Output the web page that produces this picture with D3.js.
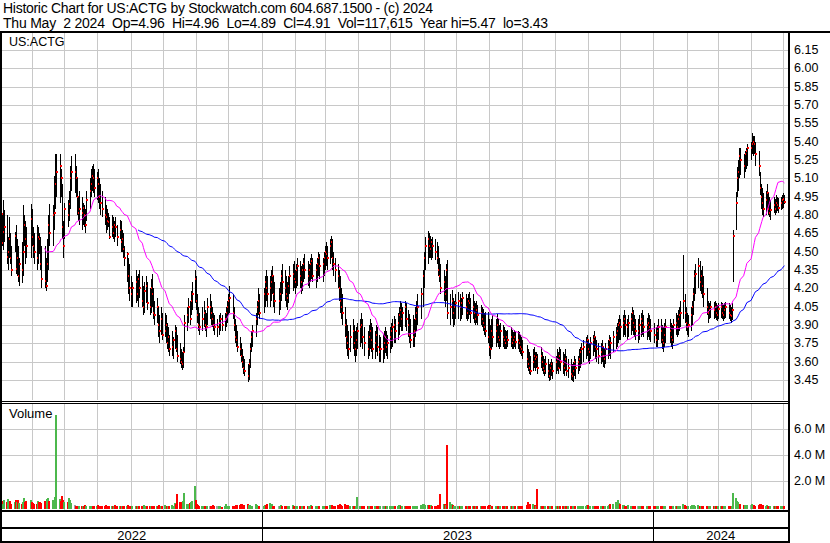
<!DOCTYPE html>
<html><head><meta charset="utf-8">
<script src="https://cdn.jsdelivr.net/npm/d3@7"></script>
<style>body{margin:0;background:#fff}svg{display:block}text{font-family:"Liberation Sans",Arial,sans-serif;fill:#000}</style>
</head><body><svg id="c" width="830" height="543"></svg>
<script>
const header1 = "Historic Chart for US:ACTG by Stockwatch.com 604.687.1500 - (c) 2024";
const header2 = "Thu May  2 2024  Op=4.96  Hi=4.96  Lo=4.89  Cl=4.91  Vol=117,615  Year hi=5.47  lo=3.43";
const symbol = "US:ACTG";
const priceTicks = [6.15,6.00,5.85,5.70,5.55,5.40,5.25,5.10,4.95,4.80,4.65,4.50,4.35,4.20,4.05,3.90,3.75,3.60,3.45];
const volTicks = [2,4,6];
const volTickLabels = ["2.0 M","4.0 M","6.0 M"];
const yearLabels = ["2022","2023","2024"];
const holidays = ["2022-05-30","2022-06-20","2022-07-04","2022-09-05","2022-11-24","2022-12-26","2023-01-02","2023-01-16","2023-02-20","2023-04-07","2023-05-29","2023-06-19","2023-07-04","2023-09-04","2023-11-23","2023-12-25","2024-01-01","2024-01-15","2024-02-19","2024-03-29"];
const maShort = 30, maLong = 90;

const highs = [
4.92,4.88,4.80,4.92,4.84, 4.80,4.62,4.78,4.65,4.55, 4.66,4.72,4.60,4.55,4.45, 4.58,4.88,4.80,4.75,4.70, 4.89,4.85,4.70,4.65,
4.72,4.70,4.65,4.62,4.55, 4.55,4.45,4.60,4.80,4.89, 4.88,5.12,5.30,5.30, 5.30,5.18,5.05,4.75,4.90, 4.92,5.00,5.20,5.28,
5.30,5.20,5.10,4.95,5.00, 4.95,4.90,4.88,4.85,5.00, 5.10,5.18,5.20,5.22,5.18, 5.15,5.18,5.10,5.05,5.00, 4.95,4.88,4.85,4.82,4.78,
4.80,4.78,4.75,4.78,4.72, 4.76,4.75,4.68,4.65,4.55, 4.50,4.45,4.40,4.30,4.25, 4.35,4.30,4.32,4.35, 4.30,4.22,4.25,4.30,4.25,
4.20,4.28,4.32,4.20,4.10, 4.12,4.05,3.98,4.05,4.00, 4.00,3.98,3.92,3.88,3.82, 3.85,3.80,3.90,3.88,3.82, 3.75,3.70,3.68,3.72,3.98,
4.05,4.12,4.10,4.18,4.25, 4.35,4.30,4.15,4.05,4.00, 4.05,4.10,4.02,4.00,4.12, 4.15,4.10,4.05,4.00,3.98, 3.95,3.98,4.00,3.98,
4.00,4.05,4.10,4.15,4.22, 4.15,4.05,3.95,3.90,3.85, 3.80,3.75,3.70,3.65,3.62, 3.58,3.62,3.75,3.85,3.90, 4.00,4.10,4.20,4.15,
4.20,4.30,4.35,4.30, 4.30,4.35,4.38,4.30,4.25, 4.20,4.25,4.35,4.40, 4.35,4.30,4.25,4.30,4.38, 4.40,4.42,4.35,4.40,4.45,
4.42,4.38,4.40,4.45,4.48, 4.42,4.40,4.45,4.48,4.45, 4.40,4.45,4.50,4.48, 4.45,4.50,4.55,4.58,4.55, 4.60,4.63,4.60,4.50,4.45,
4.40,4.35,4.30,4.20,4.15, 4.05,3.95,3.90,3.85,3.90, 3.95,3.90,3.85,3.88,3.92, 3.95,4.00,3.95,3.88, 3.85,3.90,3.95,3.92,3.88,
3.85,3.90,3.88,3.82,3.80, 3.83,3.85,3.88,3.85,3.82, 3.88,3.92,3.95,3.97,3.95, 4.00,4.05,4.10,4.08,4.05, 4.10,4.08,4.02,3.99,3.95,
3.98,3.95,4.05,4.10,4.15, 4.20,4.35,4.50,4.62, 4.67,4.65,4.63,4.60,4.62, 4.60,4.58,4.55,4.45,4.40, 4.35,4.30,4.40,4.43,
4.15,4.19,4.12,4.10,4.15, 4.17,4.15,4.12,4.17, 4.15,4.12,4.15,4.17,4.12, 4.15,4.10,4.08,4.10,4.06, 4.06,4.05,4.03,4.00,4.01,
4.01,3.95,3.90,3.95,3.98, 3.95,3.99,3.95,3.90,3.92, 3.90,3.88,3.86,3.85,3.86, 3.88,3.86,3.84,3.86,3.85, 3.85,3.84,3.82,3.80,3.78,
3.74,3.70,3.68,3.65, 3.70,3.72,3.68,3.68,3.66, 3.72,3.68,3.65,3.62,3.65, 3.62,3.58,3.60,3.62,3.60, 3.65,3.70,3.68,3.72,3.70,
3.68,3.66,3.70,3.65,3.62, 3.62,3.58,3.60,3.65,3.62, 3.65,3.70,3.72,3.75,3.78, 3.80,3.82,3.78,3.75,3.80, 3.82,3.85,3.80,3.78,3.75,
3.75,3.78,3.72,3.70,3.75, 3.78,3.82,3.80,3.85, 3.88,3.92,3.95,3.98,3.95, 3.98,4.02,3.98,3.95,3.98, 4.00,4.05,4.02,3.98,3.95,
3.95,3.98,4.00,4.02,3.98, 3.96,4.00,3.98,3.95, 3.92,3.88,3.90,3.95, 3.95,3.90,3.88,3.92,3.95, 3.95,3.92,3.90,3.95,
4.00,3.98,4.02,4.05,4.10, 4.47,4.15,4.05,4.00,3.98, 4.05,4.10,4.20,4.35,4.40, 4.45,4.42,4.35,4.38,4.30, 4.20,4.10,4.08,4.10,
4.09,4.10,4.08,4.06,4.08, 4.09,4.08,4.06,4.08,4.09, 4.08,4.06,4.05,4.08,4.68, 4.99,5.19,5.25,5.35,5.35, 5.30,5.32,5.35,5.38,
5.40,5.47,5.45,5.45,5.40, 5.32,5.15,5.05,5.02,4.98, 5.00,5.05,4.98,4.95,4.92, 4.95,4.93,4.96,4.95,4.94, 4.95,4.96,4.98,4.96];

const lows = [
4.64,4.55,4.55,4.51,4.58, 4.40,4.35,4.45,4.40,4.30, 4.50,4.32,4.30,4.25,4.22, 4.24,4.30,4.55,4.40,4.45, 4.45,4.55,4.45,4.40,
4.35,4.40,4.48,4.35,4.20, 4.20,4.18,4.25,4.35,4.55, 4.55,4.68,4.85,4.95, 4.90,4.95,4.60,4.45,4.60, 4.70,4.75,4.85,5.00,
4.98,4.95,4.80,4.75,4.72, 4.68,4.72,4.70,4.65,4.75, 4.85,4.95,5.00,4.98,4.95, 4.92,4.90,4.85,4.80,4.78, 4.72,4.65,4.68,4.70,4.60,
4.62,4.60,4.58,4.62,4.55, 4.60,4.50,4.50,4.45,4.38, 4.25,4.15,4.10,4.05,4.05, 4.08,4.10,4.05,4.12, 4.05,3.98,4.00,4.08,4.02,
3.98,4.00,4.05,3.95,3.90, 3.92,3.80,3.75,3.82,3.78, 3.80,3.75,3.70,3.68,3.65, 3.65,3.62,3.70,3.68,3.60, 3.58,3.55,3.53,3.55,3.68,
3.85,3.92,3.90,3.98,4.02, 4.08,4.02,3.92,3.85,3.82, 3.85,3.88,3.85,3.80,3.90, 3.95,3.90,3.88,3.85,3.82, 3.80,3.82,3.85,3.85,
3.85,3.88,3.92,3.98,4.00, 3.95,3.85,3.75,3.72,3.68, 3.65,3.60,3.55,3.50,3.48, 3.43,3.45,3.55,3.68,3.72, 3.80,3.90,3.98,3.95,
4.00,4.05,4.10,4.05, 4.05,4.10,4.15,4.05,4.00, 3.98,4.02,4.10,4.15, 4.10,4.05,4.02,4.08,4.15, 4.18,4.20,4.15,4.20,4.22,
4.20,4.15,4.18,4.25,4.28, 4.22,4.20,4.25,4.28,4.25, 4.20,4.25,4.30,4.28, 4.25,4.30,4.35,4.38,4.35, 4.40,4.45,4.35,4.30,4.25,
4.20,4.10,4.00,3.95,3.90, 3.80,3.70,3.65,3.62,3.68, 3.70,3.65,3.60,3.65,3.70, 3.72,3.75,3.70,3.65, 3.62,3.65,3.70,3.68,3.62,
3.62,3.68,3.65,3.60,3.60, 3.59,3.62,3.67,3.65,3.62, 3.67,3.70,3.72,3.75,3.75, 3.78,3.82,3.88,3.85,3.85, 3.88,3.85,3.80,3.75,3.71,
3.72,3.72,3.80,3.85,3.90, 3.95,4.05,4.20,4.35, 4.40,4.45,4.45,4.43,4.45, 4.43,4.40,4.30,4.25,4.15, 4.10,4.05,4.10,3.95,
3.90,3.95,3.88,3.90,3.95, 3.95,3.93,3.95,3.98, 3.95,3.93,3.95,3.98,3.92, 3.95,3.92,3.90,3.92,3.90, 3.90,3.88,3.85,3.82,3.80,
3.75,3.65,3.62,3.70,3.72, 3.72,3.75,3.72,3.70,3.72, 3.72,3.70,3.70,3.70,3.72, 3.72,3.70,3.70,3.72,3.70, 3.70,3.68,3.66,3.65,3.62,
3.55,3.52,3.50,3.49, 3.52,3.55,3.52,3.55,3.50, 3.55,3.52,3.50,3.48,3.50, 3.47,3.44,3.45,3.48,3.46, 3.50,3.52,3.50,3.55,3.52,
3.50,3.48,3.52,3.48,3.47, 3.45,3.44,3.43,3.48,3.46, 3.50,3.52,3.55,3.58,3.60, 3.62,3.65,3.60,3.58,3.62, 3.65,3.68,3.62,3.60,3.58,
3.58,3.60,3.56,3.55,3.58, 3.62,3.65,3.62,3.68, 3.70,3.72,3.75,3.78,3.78, 3.80,3.82,3.80,3.78,3.80, 3.82,3.85,3.82,3.80,3.78,
3.75,3.78,3.80,3.82,3.80, 3.78,3.80,3.78,3.76, 3.75,3.72,3.72,3.78, 3.75,3.70,3.68,3.72,3.75, 3.75,3.72,3.70,3.75,
3.82,3.80,3.82,3.85,3.88, 3.95,3.92,3.85,3.82,3.80, 3.85,3.90,3.98,4.10,4.15, 4.20,4.18,4.15,4.12,4.05, 3.98,3.92,3.95,3.96,
3.95,3.96,3.94,3.93,3.95, 3.96,3.95,3.93,3.95,3.96, 3.95,3.93,3.92,3.94,4.25, 4.68,4.95,5.00,5.10,5.13, 5.10,5.15,5.18,5.20,
5.25,5.30,5.28,5.30,5.20, 5.12,4.96,4.85,4.80,4.78, 4.80,4.85,4.80,4.78,4.76, 4.82,4.80,4.82,4.83,4.82, 4.84,4.85,4.86,4.89];

const closes = [
4.86,4.81,4.57,4.66,4.70, 4.46,4.50,4.60,4.45,4.35, 4.63,4.36,4.45,4.30,4.40, 4.35,4.50,4.72,4.60,4.55, 4.77,4.62,4.55,4.50,
4.45,4.62,4.60,4.40,4.28, 4.26,4.22,4.40,4.72,4.65, 4.80,4.82,5.05,5.15, 5.20,5.10,4.70,4.55,4.85, 4.80,4.89,5.10,5.15,
5.15,5.10,4.95,4.82,4.85, 4.82,4.86,4.80,4.72,4.92, 5.00,5.05,5.12,5.10,5.02, 5.10,5.05,4.95,4.90,4.85, 4.80,4.78,4.75,4.74,4.62,
4.70,4.65,4.72,4.70,4.62, 4.68,4.58,4.60,4.52,4.45, 4.48,4.30,4.20,4.15,4.20, 4.25,4.15,4.28,4.20, 4.10,4.05,4.18,4.22,4.08,
4.05,4.20,4.15,4.00,3.98, 4.05,3.90,3.85,3.95,3.82, 3.85,3.90,3.75,3.80,3.70, 3.72,3.78,3.85,3.70,3.65, 3.62,3.60,3.58,3.68,3.92,
3.98,4.05,3.95,4.10,4.15, 4.28,4.10,3.98,3.90,3.88, 3.95,4.00,3.90,3.88,4.05, 4.05,4.00,3.95,3.90,3.88, 3.88,3.92,3.95,3.90,
3.95,4.00,4.05,4.10,4.12, 4.00,3.90,3.80,3.78,3.72, 3.70,3.65,3.60,3.55,3.52, 3.48,3.58,3.70,3.80,3.85, 3.95,4.05,4.10,4.00,
4.15,4.25,4.20,4.15, 4.20,4.25,4.30,4.15,4.10, 4.10,4.15,4.30,4.25, 4.20,4.15,4.12,4.22,4.30, 4.32,4.28,4.25,4.35,4.38,
4.30,4.25,4.35,4.40,4.35, 4.30,4.35,4.40,4.42,4.30, 4.35,4.40,4.45,4.38, 4.40,4.45,4.50,4.48,4.45, 4.55,4.58,4.45,4.40,4.35,
4.30,4.20,4.10,4.05,4.00, 3.90,3.80,3.75,3.70,3.80, 3.85,3.75,3.70,3.78,3.85, 3.88,3.90,3.80,3.75, 3.70,3.80,3.85,3.78,3.70,
3.75,3.82,3.72,3.68,3.70, 3.70,3.75,3.80,3.72,3.75, 3.80,3.85,3.88,3.90,3.85, 3.92,3.98,4.02,3.95,4.00, 4.05,3.95,3.90,3.82,3.78,
3.80,3.85,3.95,4.00,4.05, 4.15,4.30,4.45,4.55, 4.60,4.55,4.52,4.58,4.55, 4.50,4.45,4.35,4.30,4.20, 4.25,4.15,4.35,4.00,
4.05,4.10,4.00,4.05,4.08, 4.10,4.05,4.08,4.12, 4.05,4.00,4.10,4.08,4.00, 4.05,4.00,3.95,4.02,3.98, 4.00,3.95,3.92,3.88,3.85,
3.80,3.72,3.70,3.85,3.80, 3.85,3.90,3.80,3.78,3.85, 3.80,3.78,3.75,3.80,3.78, 3.80,3.75,3.78,3.80,3.76, 3.78,3.75,3.72,3.70,3.68,
3.62,3.58,3.55,3.52, 3.60,3.65,3.62,3.64,3.55, 3.65,3.60,3.55,3.52,3.58, 3.52,3.48,3.55,3.58,3.52, 3.60,3.62,3.55,3.65,3.60,
3.58,3.55,3.62,3.52,3.55, 3.50,3.48,3.52,3.60,3.55, 3.60,3.62,3.68,3.70,3.72, 3.75,3.78,3.70,3.68,3.75, 3.78,3.80,3.72,3.70,3.65,
3.68,3.72,3.65,3.62,3.70, 3.72,3.78,3.75,3.80, 3.82,3.85,3.90,3.92,3.88, 3.92,3.95,3.90,3.88,3.92, 3.95,4.00,3.92,3.88,3.85,
3.85,3.90,3.95,3.92,3.88, 3.90,3.92,3.88,3.85, 3.82,3.78,3.85,3.88, 3.85,3.78,3.75,3.82,3.88, 3.85,3.80,3.78,3.90,
3.92,3.88,3.95,3.98,4.00, 4.10,4.00,3.92,3.88,3.90, 3.98,4.05,4.15,4.30,4.32, 4.38,4.25,4.30,4.22,4.15, 4.05,4.00,4.02,4.05,
4.02,4.05,4.00,3.98,4.03, 4.05,4.00,3.98,4.02,4.05, 4.00,3.98,3.97,4.02,4.63, 4.90,5.10,5.15,5.28,5.25, 5.20,5.30,5.32,5.35,
5.35,5.38,5.40,5.38,5.30, 5.20,5.02,4.95,4.90,4.85, 4.92,4.98,4.85,4.82,4.84, 4.88,4.85,4.90,4.88,4.86, 4.90,4.92,4.93,4.91];

// volume in thousands of shares
const volumes = [
450,380,520,300,600, 420,650,350,480,300, 380,550,420,600,350, 300,450,700,380,520, 600,420,350,300,
280,500,380,450,350, 520,400,650,700,480, 600,550,800,7000, 650,500,900,600,450, 400,700,550,350,
180,120,150,100,130, 90,140,110,160,120, 150,100,130,90,120, 110,160,140,100,90, 130,200,150,110,90,
120,100,140,160,110, 90,130,110,150,100, 140,180,120,100,90, 110,150,130,100, 120,90,160,130,110,
100,140,120,90,150, 130,110,180,120,100, 160,120,140,110,90, 200,150,350,300,1000, 400,300,380,500,1100,
300,250,350,400,500, 1650,600,300,200,150, 110,150,130,120,100, 140,90,120,160,110, 100,80,90,70,
120,260,150,100,90, 130,110,150,180,160, 200,250,300,180,220, 250,200,180,150,120, 300,180,150,120,
140,160,200,250, 350,200,280,150,120, 110,130,180,150, 120,100,90,130,150, 160,120,100,140,110,
90,110,130,150,120, 100,140,120,160,130, 110,90,120,100, 130,150,120,100,90, 200,150,180,120,110,
160,200,250,180,140, 300,220,180,200,150, 140,120,100,130,800, 120,100,130,110, 90,110,140,120,100,
130,110,100,90,120, 110,140,120,100,90, 120,130,150,150,110, 140,160,180,120,100, 110,130,150,140,120,
100,120,130,150,110, 180,250,300,200, 220,180,150,160,140, 130,150,200,180,1000, 250,300,200,4750,
400,250,180,150,120, 90,110,100,120, 100,130,110,90,120, 110,100,120,90,80, 100,90,110,120,100,
150,200,180,130,110, 120,100,110,90,130, 100,90,110,120,100, 90,110,100,120,90, 100,120,110,130,150,
200,400,300,250, 300,200,180,150,1400, 140,120,130,150,110, 130,150,120,110,100, 120,140,130,110,100,
110,130,120,100,90, 150,130,120,110,140, 120,100,110,130,150, 140,160,180,150,130, 120,110,130,100,140,
150,120,110,130,100, 140,200,250,300, 450,300,600,350,250, 200,180,150,140,160, 130,150,120,110,100,
120,100,110,90,100, 80,90,100,110, 90,100,80,110, 100,90,120,110,100, 90,110,100,120,
100,120,110,130,90, 250,180,150,120,110, 140,160,180,200,150, 180,150,130,120,110, 100,90,110,100,
90,100,80,90,100, 100,90,110,100,90, 100,110,90,100,1100, 700,500,400,300,250, 200,180,150,160,
200,250,180,160,150, 220,300,250,200,180, 150,160,140,130,120, 110,100,130,120,110, 100,120,110,118];

// ---------- build ----------
const fmt = d3.timeFormat("%Y-%m-%d");
const tradingDays = d3.timeDay.range(new Date(2022,4,2), new Date(2024,4,3))
  .filter(d => d.getDay() > 0 && d.getDay() < 6 && !holidays.includes(fmt(d)));
const n = Math.min(tradingDays.length, highs.length, lows.length, closes.length, volumes.length);
const bars = d3.range(n).map(i => ({date: tradingDays[i], h: highs[i], l: lows[i], c: closes[i], v: volumes[i] / 1000,
  dir: i === 0 ? 1 : Math.sign(closes[i] - closes[i-1])}));

function sma(period) {
  const out = [];
  for (let i = period - 1; i < n; i++) out.push({date: bars[i].date, v: d3.mean(closes.slice(i - period + 1, i + 1))});
  return out;
}

const W = 830, H = 543;
const PL = 2, PR = 788, PT = 33, PB = 400, VT = 404, VB = 510;
const svg = d3.select("#c");
const x = d3.scaleTime().domain([new Date(2023,0,1), new Date(2024,0,1)]).range([261.5, 653.4]);
const y = d3.scaleLinear().domain([3.45, 6.15]).range([380, 50]);
const vy = d3.scaleLinear().domain([0, 6]).range([507.5, 428.5]);

svg.append("rect").attr("width", W).attr("height", H).attr("fill", "#fff");
const defs = svg.append("defs");
defs.append("clipPath").attr("id", "cp").append("rect").attr("x", PL).attr("y", PT).attr("width", PR - PL).attr("height", PB - PT);
defs.append("clipPath").attr("id", "cv").append("rect").attr("x", PL).attr("y", VT).attr("width", PR - PL).attr("height", VB - VT);

const grid = svg.append("g").attr("stroke", "#c8c8c8").attr("stroke-width", 1).attr("shape-rendering", "crispEdges");
const months = d3.timeMonth.range(new Date(2022,5,1), new Date(2024,4,6));
months.forEach(m => {
  const xm = Math.round(x(m)) + 0.5;
  grid.append("line").attr("x1", xm).attr("x2", xm).attr("y1", PT).attr("y2", PB);
  grid.append("line").attr("x1", xm).attr("x2", xm).attr("y1", VT).attr("y2", VB);
});
priceTicks.forEach(p => {
  const yy = Math.round(y(p)) + 0.5;
  grid.append("line").attr("x1", PL).attr("x2", PR).attr("y1", yy).attr("y2", yy);
});
volTicks.forEach(v => {
  const yy = Math.round(vy(v)) + 0.5;
  grid.append("line").attr("x1", PL).attr("x2", PR).attr("y1", yy).attr("y2", yy);
});

// price bars: 1px high-low line then its red close tick, in date order
const pg = svg.append("g").attr("clip-path", "url(#cp)").attr("shape-rendering", "crispEdges");
const bg = pg.selectAll("g").data(bars).join("g");
bg.append("rect")
  .attr("x", d => Math.round(x(d.date))).attr("width", 1)
  .attr("y", d => Math.round(y(d.h))).attr("height", d => Math.max(1, Math.round(y(d.l)) - Math.round(y(d.h))))
  .attr("fill", "#000");
bg.append("rect")
  .attr("x", d => Math.round(x(d.date))).attr("width", 2)
  .attr("y", d => Math.round(y(d.c)) - 1).attr("height", 2)
  .attr("fill", "#ff0000");

// moving averages
const lineGen = d3.line().x(d => x(d.date)).y(d => y(d.v));
const mg = svg.append("g").attr("clip-path", "url(#cp)").attr("fill", "none").attr("stroke-width", 1);
mg.append("path").datum(sma(maLong)).attr("d", lineGen).attr("stroke", "#0000ff");
mg.append("path").datum(sma(maShort)).attr("d", lineGen).attr("stroke", "#ff00ff");

// volume bars
const vg = svg.append("g").attr("clip-path", "url(#cv)").attr("shape-rendering", "crispEdges");
vg.selectAll("rect").data(bars).join("rect")
  .attr("x", d => Math.round(x(d.date)) - 1).attr("width", 2)
  .attr("y", d => Math.round(vy(d.v))).attr("height", d => Math.max(1, 509 - Math.round(vy(d.v))))
  .attr("fill", d => d.dir > 0 ? "#4cb84c" : d.dir < 0 ? "#ff0000" : "#a0a0a0");

// frame
const fr = svg.append("g").attr("fill", "#000").attr("shape-rendering", "crispEdges");
fr.append("rect").attr("x", 0).attr("y", 31).attr("width", W).attr("height", 2);
fr.append("rect").attr("x", 0).attr("y", 31).attr("width", 2).attr("height", 512);
fr.append("rect").attr("x", 788).attr("y", 31).attr("width", 2).attr("height", 512);
fr.append("rect").attr("x", 0).attr("y", 401).attr("width", 789).attr("height", 1);
fr.append("rect").attr("x", 0).attr("y", 403).attr("width", 789).attr("height", 1);
fr.append("rect").attr("x", 0).attr("y", 510).attr("width", 790).attr("height", 2);
fr.append("rect").attr("x", 0).attr("y", 527).attr("width", 790).attr("height", 2);
fr.append("rect").attr("x", 0).attr("y", 541).attr("width", 790).attr("height", 2);
const yearStarts = [new Date(2023,0,1), new Date(2024,0,1)];
yearStarts.forEach(d => fr.append("rect").attr("x", Math.round(x(d)) - 0.5).attr("y", 511).attr("width", 1.5).attr("height", 31));

// texts
const nb = s => s.replace(/ /g, "\u00a0");
svg.append("text").attr("x", 3).attr("y", 12.5).attr("font-size", 14).attr("textLength", 430).attr("lengthAdjust", "spacing").text(nb(header1));
svg.append("text").attr("x", 3).attr("y", 28).attr("font-size", 14).attr("textLength", 545).attr("lengthAdjust", "spacing").text(nb(header2));
svg.append("text").attr("x", 9).attr("y", 46).attr("font-size", 12.5).text(symbol);
svg.append("text").attr("x", 9).attr("y", 417.5).attr("font-size", 13).text("Volume");
priceTicks.forEach(p => svg.append("text").attr("x", 794).attr("y", y(p) + 4).attr("font-size", 12.5).text(p.toFixed(2)));
volTicks.forEach((v, i) => svg.append("text").attr("x", 794).attr("y", vy(v) + 4).attr("font-size", 12.5).text(volTickLabels[i]));
const bounds = [PL, x(yearStarts[0]), x(yearStarts[1]), PR];
yearLabels.forEach((t, i) => svg.append("text").attr("x", (bounds[i] + bounds[i+1]) / 2).attr("y", 540)
  .attr("font-size", 13).attr("text-anchor", "middle").text(t));
</script></body></html>
